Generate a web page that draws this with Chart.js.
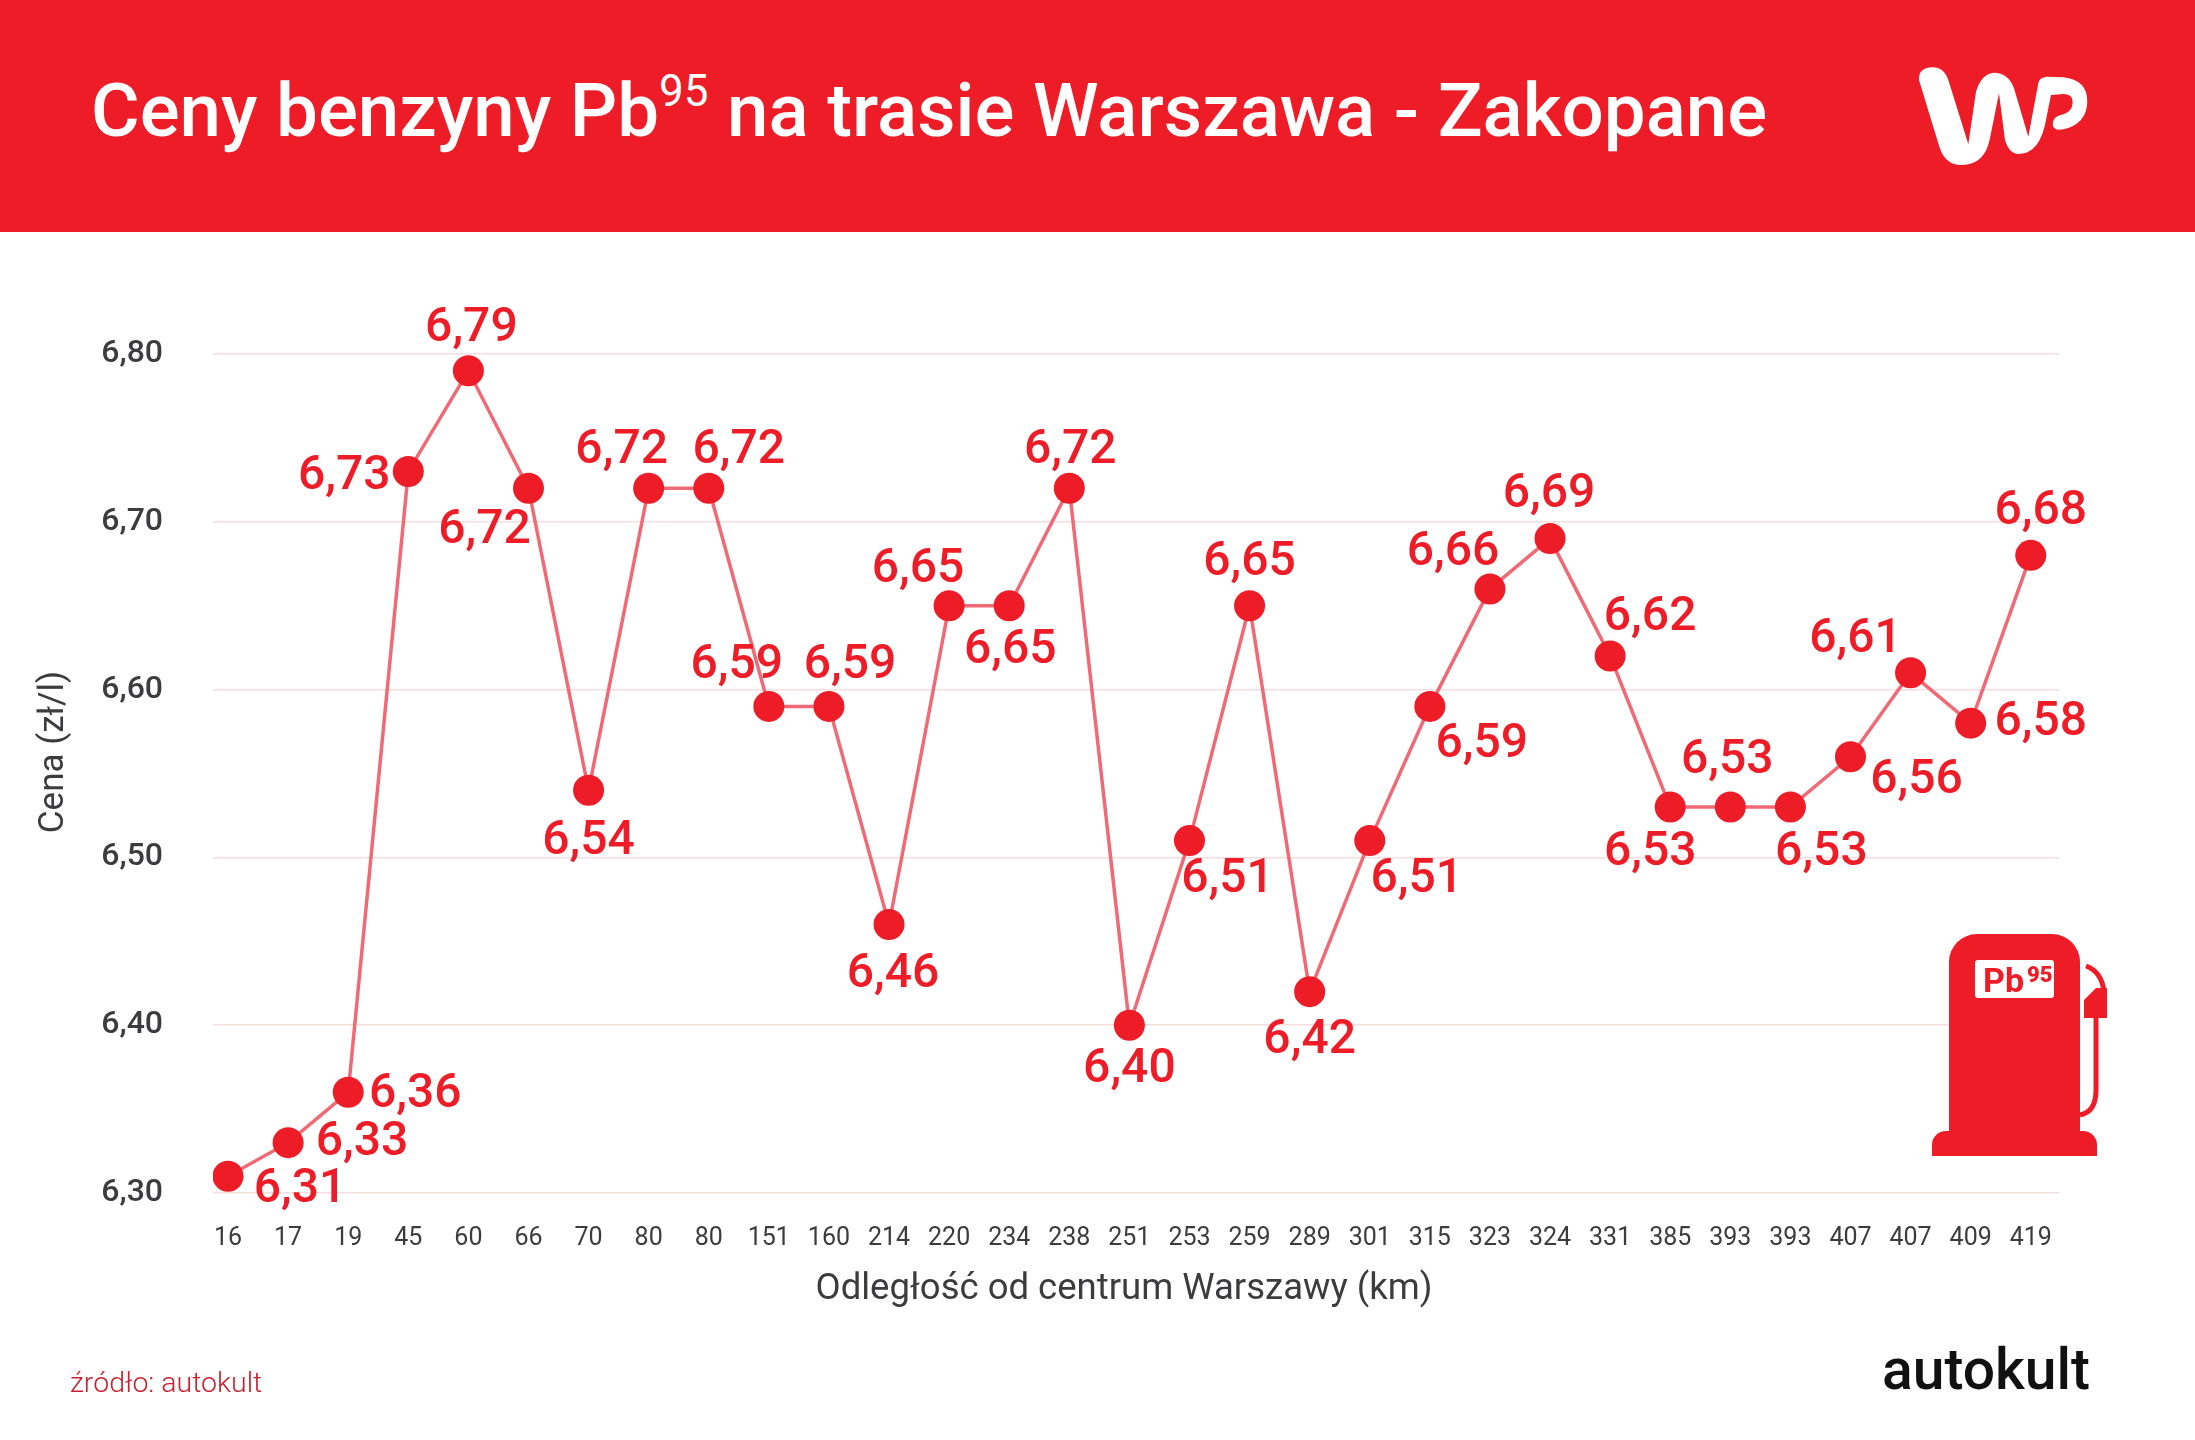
<!DOCTYPE html>
<html lang="pl">
<head>
    <meta charset="UTF-8">
    <title>Ceny benzyny Pb95 na trasie Warszawa - Zakopane</title>
    <script src="https://cdn.jsdelivr.net/npm/chart.js"></script>
    <style>
        body {
            margin: 0;
            width: 2195px;
            height: 1440px;
            position: relative;
            overflow: hidden;
            background: #fff;
            font-family: 'Roboto', sans-serif;
        }
        #chart {
            position: absolute;
            left: 0;
            top: 0;
        }
        .header {
            position: absolute;
            left: 0;
            top: 0;
            width: 2195px;
            height: 232px;
            background: #ed1c27;
        }
        .title {
            position: absolute;
            left: 91px;
            top: 67px;
            color: #fff;
            font-size: 74.5px;
            font-weight: 500;
            line-height: 88px;
            white-space: nowrap;
        }
        .title sup {
            font-size: 44px;
            font-weight: 400;
            line-height: 0;
            vertical-align: 30px;
        }
        .source {
            position: absolute;
            left: 70px;
            top: 1366px;
            color: #c8202f;
            font-size: 28.5px;
            font-weight: 300;
        }
        .brand {
            position: absolute;
            left: 1882px;
            top: 1336px;
            color: #111;
            font-size: 57px;
            font-weight: 500;
        }
        #art {
            position: absolute;
            left: 0;
            top: 0;
        }
    </style>
</head>
<body>
    <canvas id="chart" width="2195" height="1440"></canvas>
    <div class="header">
        <div class="title">Ceny benzyny Pb<sup>95</sup> na trasie Warszawa - Zakopane</div>
    </div>
    <div class="source">źródło: autokult</div>
    <div class="brand">autokult</div>

    <svg id="art" width="2195" height="1440" viewBox="0 0 2195 1440">
        <!-- WP logo -->
        <g transform="translate(1850,30) scale(0.3333)" fill="#fff">
            <path d="M207 150 Q205 112 248 112 Q282 112 295 150 L355 343 L378 185 Q395 130 432 128 Q475 128 492 175 L535 320 L565 160 Q568 142 590 140 L640 142 Q712 150 712 215 Q710 282 640 298 Q610 304 608 282 Q610 260 632 255 Q668 248 668 215 Q668 192 640 192 L603 195 L585 285 Q565 372 505 372 Q478 372 465 330 L447 190 L420 325 Q405 405 335 405 Q285 405 268 350 Z"/>
        </g>
        <!-- pump -->
        <g fill="#ed1c27">
            <path d="M1949 1134 V962 a28 28 0 0 1 28-28 h75 a28 28 0 0 1 28 28 V1134 Z"/>
            <path d="M1932 1156 v-11 a14 14 0 0 1 14-14 h137 a14 14 0 0 1 14 14 v11 Z"/>
            <path d="M2084 1000 l12-12 h11 v30 h-23 Z"/>
            <path d="M2080 1115 Q2096 1112 2096 1090 V1015 M2086 966 Q2102 972 2104 992" fill="none" stroke="#ed1c27" stroke-width="5"/>
            <rect x="1975" y="960" width="79" height="38" rx="3" fill="#fff"/>
            <text x="1983" y="992" font-family="Roboto" font-weight="700" font-size="34">Pb</text>
            <text x="2027" y="982" font-family="Roboto" font-weight="900" font-size="22">95</text>
        </g>
    </svg>

    <script>
        const distances = ['16', '17', '19', '45', '60', '66', '70', '80', '80', '151', '160', '214', '220', '234', '238', '251',
            '253', '259', '289', '301', '315', '323', '324', '331', '385', '393', '393', '407', '407', '409', '419'];
        const prices = [6.31, 6.33, 6.36, 6.73, 6.79, 6.72, 6.54, 6.72, 6.72, 6.59, 6.59, 6.46, 6.65, 6.65, 6.72, 6.40,
            6.51, 6.65, 6.42, 6.51, 6.59, 6.66, 6.69, 6.62, 6.53, 6.53, 6.53, 6.56, 6.61, 6.58, 6.68];
        const yTickValues = [6.3, 6.4, 6.5, 6.6, 6.7, 6.8];
        const yTickLabels = ['6,30', '6,40', '6,50', '6,60', '6,70', '6,80'];

        // where each value label sits relative to its point, picked by hand to avoid the line
        const labelOffsets = [[72, 14], [74, 0], [67, 3], [-64, 6], [3, -42], [-44, 43], [0, 52], [-27, -37], [30, -37], [-32, -40],
            [21, -40], [4, 50], [-31, -36], [1, 45], [1, -37], [0, 45], [38, 39], [0, -43], [0, 49], [47, 39], [52, 39], [-37, -36],
            [-1, -44], [40, -38], [-20, 46], [-3, -46], [31, 46], [66, 24], [-55, -33], [70, 0], [10, -43]];

        const red = '#ed1c27';
        const grey = '#3c3c3e';

        const extraText = {
            id: 'extraText',
            afterDatasetsDraw(chart) {
                const ctx = chart.ctx;
                const points = chart.getDatasetMeta(0).data;
                ctx.save();
                ctx.textAlign = 'center';
                ctx.textBaseline = 'middle';

                // value labels
                ctx.fillStyle = red;
                ctx.font = '500 48px Roboto';
                points.forEach((p, i) => {
                    ctx.fillText(prices[i].toFixed(2).replace('.', ','), p.x + labelOffsets[i][0], p.y + labelOffsets[i][1]);
                });

                // axis titles, placed off centre like the original
                ctx.fillStyle = grey;
                ctx.font = '400 36.5px Roboto';
                ctx.fillText(chart.options.scales.x.title.text, 1124, 1290);
                ctx.font = '400 35px Roboto';
                ctx.translate(54, 752);
                ctx.rotate(-Math.PI / 2);
                ctx.fillText(chart.options.scales.y.title.text, 0, 0);
                ctx.restore();
            }
        };

        new Chart(document.getElementById('chart').getContext('2d'), {
            type: 'line',
            data: {
                datasets: [{
                    data: prices.map((v, i) => ({ x: i, y: v })),
                    borderColor: '#ef6a74',
                    borderWidth: 3.5,
                    tension: 0,
                    pointRadius: 15.5,
                    pointBackgroundColor: red,
                    pointBorderWidth: 0
                }]
            },
            options: {
                responsive: false,
                animation: false,
                devicePixelRatio: 1,
                layout: { padding: { left: 0, top: 354, right: 136, bottom: 147 } },
                plugins: {
                    legend: { display: false },
                    tooltip: { enabled: false }
                },
                scales: {
                    x: {
                        type: 'linear',
                        min: -0.25,
                        max: 30.47,
                        title: { display: false, text: 'Odległość od centrum Warszawy (km)' },
                        grid: { display: false },
                        border: { display: false },
                        afterBuildTicks: scale => { scale.ticks = distances.map((d, i) => ({ value: i })); },
                        afterFit: scale => { scale.height = 100; },
                        ticks: {
                            autoSkip: false,
                            maxRotation: 0,
                            padding: 23,
                            color: grey,
                            font: { family: 'Roboto', size: 25 },
                            callback: (v, i) => distances[i]
                        }
                    },
                    y: {
                        min: 6.3,
                        max: 6.8,
                        title: { display: false, text: 'Cena (zł/l)' },
                        grid: { color: '#f5dde0', lineWidth: 1.5, drawTicks: false },
                        border: { display: false },
                        afterBuildTicks: scale => { scale.ticks = yTickValues.map(v => ({ value: v })); },
                        afterFit: scale => { scale.width = 213; },
                        ticks: {
                            padding: 50,
                            color: grey,
                            font: { family: 'Roboto', size: 32, weight: '500' },
                            callback: (v, i) => yTickLabels[i]
                        }
                    }
                }
            },
            plugins: [extraText]
        });
    </script>
</body>
</html>
